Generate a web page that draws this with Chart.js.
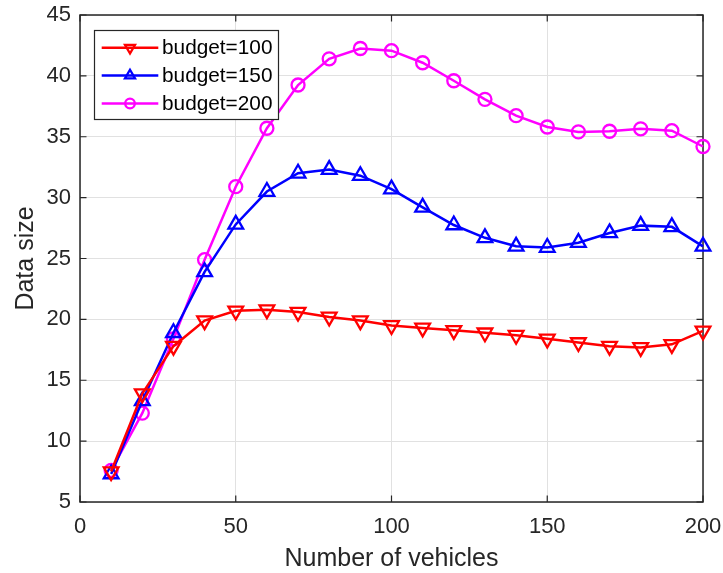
<!DOCTYPE html>
<html>
<head>
<meta charset="utf-8">
<script src="https://cdn.jsdelivr.net/npm/chart.js@4.4.1/dist/chart.umd.min.js"></script>
<style>
  html, body { margin: 0; padding: 0; background: #ffffff; }
  #wrap { width: 723px; height: 573px; }
</style>
</head>
<body>
<div id="wrap"><canvas id="c" width="723" height="573"></canvas></div>
<script>
// ---- data ----
const vehicles = [10, 20, 30, 40, 50, 60, 70, 80, 90, 100, 110, 120, 130, 140, 150, 160, 170, 180, 190, 200];
const budget100 = [7.5, 13.9, 17.8, 19.9, 20.7, 20.8, 20.6, 20.2, 19.9, 19.5, 19.3, 19.1, 18.9, 18.7, 18.4, 18.1, 17.8, 17.7, 17.95, 19.05];
const budget150 = [7.3, 13.3, 18.9, 23.9, 27.8, 30.5, 32.0, 32.3, 31.8, 30.7, 29.2, 27.75, 26.7, 26.0, 25.9, 26.3, 27.1, 27.7, 27.6, 26.0];
const budget200 = [7.6, 12.3, 18.4, 24.9, 30.9, 35.7, 39.25, 41.4, 42.25, 42.07, 41.08, 39.6, 38.07, 36.73, 35.8, 35.4, 35.45, 35.65, 35.5, 34.2];
const seriesLabels = ['budget=100', 'budget=150', 'budget=200'];
const xTicks = [0, 50, 100, 150, 200];
const yTicks = [5, 10, 15, 20, 25, 30, 35, 40, 45];
const xTitle = 'Number of vehicles';
const yTitle = 'Data size';

const FONT = '"Liberation Sans", Arial, Helvetica, sans-serif';
const AXIS_COLOR = '#262626';

function pts(ys) { return vehicles.map((x, i) => ({ x: x, y: ys[i] })); }

function mkSet(label, ys, color, style, rot, r) {
  return {
    label: label,
    data: pts(ys),
    borderColor: color,
    backgroundColor: color,
    borderWidth: 2.5,
    pointStyle: style,
    rotation: rot,
    pointRotation: rot,
    pointRadius: r,
    pointHoverRadius: r,
    pointBorderWidth: 2.3,
    pointBorderColor: color,
    pointBackgroundColor: 'rgba(0,0,0,0)',
    tension: 0,
    clip: false,
    legendRadius: style === 'circle' ? 4.8 : 5.8
  };
}

const boxPlugin = {
  id: 'matlabBox',
  beforeDatasetsDraw(chart) {
    const ctx = chart.ctx, a = chart.chartArea;
    const xs = chart.scales.x, ys = chart.scales.y;
    ctx.save();
    ctx.strokeStyle = AXIS_COLOR;
    ctx.lineWidth = 1.5;
    ctx.strokeRect(a.left, a.top, a.right - a.left, a.bottom - a.top);
    const tl = 6.5;
    ctx.lineWidth = 1.2;
    ctx.beginPath();
    xTicks.forEach(v => {
      const p = xs.getPixelForValue(v);
      ctx.moveTo(p, a.bottom); ctx.lineTo(p, a.bottom - tl);
      ctx.moveTo(p, a.top); ctx.lineTo(p, a.top + tl);
    });
    yTicks.forEach(v => {
      const p = ys.getPixelForValue(v);
      ctx.moveTo(a.left, p); ctx.lineTo(a.left + tl, p);
      ctx.moveTo(a.right, p); ctx.lineTo(a.right - tl, p);
    });
    ctx.stroke();
    ctx.restore();
  }
};

const legendPlugin = {
  id: 'matlabLegend',
  afterDraw(chart) {
    const ctx = chart.ctx;
    const bx = 94.5, by = 30.5, bw = 184, bh = 89;
    ctx.save();
    ctx.fillStyle = '#ffffff';
    ctx.fillRect(bx, by, bw, bh);
    ctx.strokeStyle = AXIS_COLOR;
    ctx.lineWidth = 1.2;
    ctx.strokeRect(bx, by, bw, bh);
    const rows = [47.7, 75.5, 103.5];
    chart.data.datasets.forEach((ds, i) => {
      const y = rows[i];
      ctx.strokeStyle = ds.borderColor;
      ctx.lineWidth = ds.borderWidth;
      ctx.beginPath();
      ctx.moveTo(101.7, y); ctx.lineTo(158.3, y);
      ctx.stroke();
      ctx.strokeStyle = ds.borderColor;
      ctx.fillStyle = 'rgba(0,0,0,0)';
      ctx.lineWidth = ds.pointBorderWidth;
      Chart.helpers.drawPoint(ctx, {
        pointStyle: ds.pointStyle,
        rotation: ds.pointRotation,
        radius: ds.legendRadius,
        borderWidth: ds.pointBorderWidth
      }, 130, y);
      ctx.fillStyle = '#000000';
      ctx.font = '20.8px ' + FONT;
      ctx.textAlign = 'left';
      ctx.textBaseline = 'middle';
      ctx.fillText(ds.label, 162, y + 1);
    });
    ctx.restore();
  }
};

new Chart(document.getElementById('c'), {
  type: 'line',
  data: {
    datasets: [
      mkSet(seriesLabels[0], budget100, '#ff0000', 'triangle', 180, 8.5),
      mkSet(seriesLabels[1], budget150, '#0000ff', 'triangle', 0, 8.5),
      mkSet(seriesLabels[2], budget200, '#ff00ff', 'circle', 0, 6.5)
    ]
  },
  options: {
    responsive: false,
    animation: false,
    devicePixelRatio: 1,
    layout: { padding: { top: 15, right: 20, left: 0, bottom: 0 } },
    plugins: { legend: { display: false }, tooltip: { enabled: false } },
    events: [],
    scales: {
      x: {
        type: 'linear',
        min: 0, max: 200,
        afterBuildTicks(s) { s.ticks = xTicks.map(v => ({ value: v })); },
        afterFit(s) { s.height = 71; s.paddingLeft = 0; s.paddingRight = 0; },
        grid: { color: '#e1e1e1', lineWidth: 1, drawTicks: false },
        border: { display: false },
        ticks: { color: AXIS_COLOR, font: { family: FONT, size: 22 }, padding: 12, maxRotation: 0 },
        title: { display: true, text: xTitle, color: AXIS_COLOR, font: { family: FONT, size: 25, lineHeight: 1.12 }, padding: { top: 0, bottom: 0 } }
      },
      y: {
        type: 'linear',
        min: 5, max: 45,
        afterBuildTicks(s) { s.ticks = yTicks.map(v => ({ value: v })); },
        afterFit(s) { s.width = 80; s.paddingTop = 0; s.paddingBottom = 0; },
        grid: { color: '#e1e1e1', lineWidth: 1, drawTicks: false },
        border: { display: false },
        ticks: { color: AXIS_COLOR, font: { family: FONT, size: 22 }, padding: 9 },
        title: { display: true, text: yTitle, color: AXIS_COLOR, font: { family: FONT, size: 25, lineHeight: 1.2 }, padding: { top: 11, bottom: 0 } }
      }
    }
  },
  plugins: [boxPlugin, legendPlugin]
});
</script>
</body>
</html>
